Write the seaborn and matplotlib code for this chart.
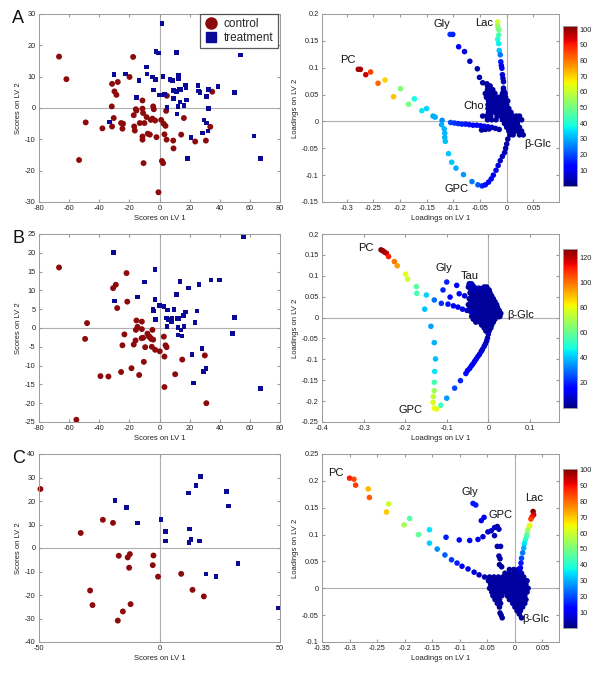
import numpy as np
import pandas as pd
import matplotlib
matplotlib.use('Agg')
import matplotlib.pyplot as plt
import seaborn as sns
from matplotlib.lines import Line2D
from matplotlib.ticker import FuncFormatter

sns.set_style('white')
plt.rcParams['font.family'] = ['Liberation Sans', 'DejaVu Sans']
plt.rcParams['axes.unicode_minus'] = False

# ---------------- scores (left column) ----------------
ctrlA_x = [-66.7, -61.8, -49.0, -53.4, -37.9, -31.5, -31.7, -30.4, -31.5, -29.9, -28.6, -27.7, -25.5, -24.6, -24.2,
           -19.9, -17.5, -17.1, -16.8, -16.4, -15.7, -15.3, -13.1, -11.3, -11.3, -10.9, -11.3, -11.3, -10.6, -10.0,
           -8.6, -7.8, -6.4, -5.8, -4.7, -4.2, -3.8, -2.9, -2.0, -0.7, 1.1, 1.6, 2.4, 2.7, 3.3, 4.0, 4.4, 4.9, 4.7,
           9.1, 9.3, 14.4, 16.2, 23.7, 30.8, 33.7, 35.0]
ctrlA_y = [16.4, 9.2, -4.6, -16.6, -6.5, -5.9, 0.5, -3.2, 7.7, 5.3, 4.2, 8.3, -4.8, -6.6, -5.0,
           9.9, 16.3, -2.3, -5.9, -7.2, -0.4, -0.8, -4.8, 2.4, -0.2, -1.6, -9.1, -10.1, -17.6, -4.8,
           -2.9, -8.2, -8.5, -3.8, -3.4, 0.5, -0.4, -4.0, -9.3, -26.9, -3.8, -16.9, -17.6, -5.0, -8.4, -5.7, -0.9, 3.9, -10.1,
           -10.4, -12.9, -8.5, -3.2, -10.7, -10.4, -6.0, 5.2]
trtA_x = [-33.0, -30.1, -22.6, -15.3, -13.5, -8.6, -8.4, -4.7, -3.8, -2.7, -2.2, -0.7, -0.2, 1.6, 2.4, 3.3, 5.1,
          6.9, 8.6, 9.1, 9.1, 11.1, 11.1, 11.7, 12.2, 12.6, 12.6, 12.9, 13.5, 14.0, 16.2, 17.1, 17.5, 18.0, 18.4,
          20.8, 25.5, 25.9, 27.0, 28.6, 29.5, 31.3, 31.3, 32.2, 32.6, 32.6, 38.8, 49.9, 53.9, 62.7, 67.1]
trtA_y = [-4.5, 10.6, 10.9, 3.3, 8.8, 13.1, 10.8, 9.9, 5.8, 9.0, 18.0, 17.5, 4.1, 27.0, 10.0, 4.4, 0.2,
          9.0, 8.7, 3.0, 5.6, 5.3, 17.8, -1.9, 0.5, 10.5, 9.3, 6.0, 1.9, 6.0, 0.8, 7.3, 6.4, 2.6, -16.1,
          -9.5, 7.1, 5.4, 4.9, -8.0, -3.8, 3.7, -4.8, -7.4, 6.0, -0.2, 6.8, 5.0, 16.9, -8.9, -16.2]

ctrlB_x = [-66.7, -48.1, -49.4, -55.2, -39.2, -33.9, -30.8, -29.0, -28.1, -21.9, -21.4, -23.3, -24.6, -25.5, -18.6,
           -13.5, -15.3, -14.6, -15.7, -15.9, -17.1, -11.7, -11.7, -11.9, -10.9, -10.4, -9.5, -8.0, -7.0, -6.4,
           -5.5, -4.7, -4.2, -5.1, -2.9, 0.2, 2.9, 3.3, 4.0, 4.7, 3.3, 10.4, 15.1, 30.1, 31.1]
ctrlB_y = [16.1, 1.3, -2.9, -24.4, -12.8, -12.9, 10.6, 11.5, 5.3, 14.6, 7.0, -1.7, -4.6, -11.7, -10.7,
           -12.5, 2.0, 0.3, -0.5, -3.3, -4.4, 1.7, -0.3, -2.7, -2.6, -9.0, -5.1, -1.5, -2.3, -2.4,
           -2.9, -0.5, -3.1, -5.0, -5.8, -6.2, -2.3, -7.6, -4.6, -5.1, -15.7, -12.3, -8.4, -7.3, -20.0]
trtB_x = [-30.6, -29.9, -14.8, -10.0, -2.9, -3.1, -4.4, -4.0, -2.7, 0.2, 3.1, 5.3, 4.7, 5.1, 6.0, 7.3, 7.8,
          8.2, 9.5, 11.1, 11.5, 12.9, 13.5, 12.2, 12.2, 14.4, 14.9, 16.2, 16.0, 17.3, 19.3, 21.7, 22.4, 23.5,
          25.0, 26.1, 28.1, 29.2, 31.0, 34.1, 39.7, 48.5, 49.6, 55.6, 67.1]
trtB_y = [20.0, 7.2, 8.2, 12.2, 15.6, 7.5, 5.0, 4.5, 2.3, 6.0, 5.7, 4.8, 2.7, 0.4, 2.3, 2.2, 1.6,
          2.5, 5.0, 8.9, 2.5, 2.6, 12.4, 0.2, -1.9, -0.5, -2.1, 0.4, 3.3, 4.3, 10.6, -7.1, -14.6, 1.5,
          4.5, 11.5, -5.4, -11.5, -10.7, 12.8, 12.8, -1.4, 2.8, 24.3, -16.1]

ctrlC_x = [-49.4, -32.7, -23.5, -19.3, -16.9, -13.2, -12.3, -12.6, -28.8, -27.8, -17.3, -15.2, -12.0, -2.5, -2.8,
           -0.6, 9.0, 13.7, 18.4]
ctrlC_y = [25.1, 6.4, 12.0, 10.7, -3.3, -4.0, -2.6, -8.4, -18.1, -24.3, -30.9, -27.0, -23.9, -3.2, -7.3,
           -12.2, -11.0, -17.8, -20.6]
trtC_x = [-18.4, -13.7, -9.1, 0.6, 2.6, 2.4, 12.0, 12.5, 13.0, 12.2, 15.2, 17.0, 16.7, 19.3, 23.5, 27.8, 28.7,
          32.5, 49.4]
trtC_y = [20.2, 17.3, 10.7, 12.0, 7.0, 2.9, 23.4, 8.1, 3.7, 2.3, 26.7, 30.5, 3.0, -11.0, -12.2, 24.0, 17.8,
          -6.7, -25.6]

# ---------------- loadings (right column): coloured branches ----------------
loadA_x = [-0.278, -0.274, -0.264, -0.255, -0.241, -0.228, -0.212, -0.199, -0.184, -0.173, -0.159, -0.150, -0.138, -0.134, -0.121,
           -0.122, -0.117, -0.116, -0.116, -0.115, -0.109, -0.103, -0.095, -0.081, -0.065, -0.054, -0.046, -0.040,
           -0.034, -0.029, -0.025, -0.020, -0.016, -0.012, -0.008, -0.004, -0.002, 0.000, 0.002,
           -0.105, -0.098, -0.091, -0.084, -0.077, -0.070, -0.063, -0.056, -0.049, -0.042, -0.035, -0.028, -0.021, -0.014,
           -0.106, -0.101, -0.090, -0.079, -0.069, -0.055, -0.051, -0.045, -0.037, -0.034,
           -0.017, -0.017, -0.015, -0.015, -0.017, -0.015, -0.014, -0.012, -0.011, -0.010, -0.009, -0.008, -0.007, -0.006, -0.006, -0.004]
loadA_y = [0.097, 0.097, 0.087, 0.092, 0.071, 0.077, 0.046, 0.061, 0.032, 0.042, 0.020, 0.024, 0.010, 0.008, 0.002,
           -0.006, -0.014, -0.022, -0.030, -0.037, -0.060, -0.076, -0.087, -0.099, -0.112, -0.118, -0.120, -0.118,
           -0.113, -0.107, -0.100, -0.091, -0.082, -0.073, -0.065, -0.058, -0.050, -0.042, -0.033,
           -0.002, -0.003, -0.004, -0.005, -0.005, -0.006, -0.007, -0.007, -0.008, -0.009, -0.010, -0.011, -0.013, -0.015,
           0.162, 0.162, 0.139, 0.130, 0.112, 0.098, 0.082, 0.072, 0.070, 0.060,
           0.185, 0.178, 0.171, 0.161, 0.153, 0.145, 0.132, 0.124, 0.111, 0.104, 0.099, 0.087, 0.080, 0.074, 0.062, 0.054]
loadA_c = [100, 98, 95, 86, 82, 70, 72, 52, 50, 38, 36, 34, 30, 30, 27,
           30, 31, 31, 31, 32, 33, 33, 30, 28, 25, 22, 16, 14,
           12, 11, 10, 9, 8, 6, 5, 5, 4, 4, 3,
           20, 18, 17, 16, 15, 14, 12, 11, 10, 9, 8, 6, 5, 4,
           18, 16, 12, 9, 6, 4, 4, 3, 3, 3,
           62, 55, 50, 45, 40, 37, 32, 25, 15, 12, 10, 8, 6, 5, 4, 3]

loadB_x = [-0.258, -0.254, -0.250, -0.245, -0.240, -0.226, -0.219, -0.199, -0.194, -0.173, -0.172, -0.149, -0.153, -0.130,
           -0.138, -0.130, -0.127, -0.129, -0.130, -0.130, -0.132, -0.133, -0.130, -0.124, -0.114, -0.100, -0.081, -0.067,
           -0.054, -0.050, -0.045, -0.041, -0.037, -0.033, -0.029, -0.025, -0.021, -0.017, -0.014, -0.010, -0.007, -0.004, -0.002, 0.000,
           -0.100, -0.109, -0.076, -0.070, -0.092, -0.057,
           -0.113, -0.097, -0.084, -0.073, -0.062, -0.051, -0.042, -0.034,
           -0.045, -0.040, -0.035, -0.038, -0.030, -0.025, -0.021, -0.010, -0.006, -0.004,
           0.026, 0.022, 0.018, 0.015]
loadB_y = [0.162, 0.160, 0.157, 0.154, 0.146, 0.134, 0.124, 0.104, 0.092, 0.074, 0.058, 0.054, 0.020, 0.042,
           -0.021, -0.060, -0.099, -0.129, -0.155, -0.175, -0.189, -0.203, -0.217, -0.219, -0.210, -0.193, -0.169, -0.151,
           -0.134, -0.127, -0.122, -0.116, -0.111, -0.105, -0.099, -0.093, -0.088, -0.081, -0.076, -0.069, -0.063, -0.056, -0.049, -0.040,
           0.085, 0.066, 0.077, 0.057, 0.049, 0.052,
           0.034, 0.032, 0.028, 0.025, 0.020, 0.017, 0.014, 0.011,
           0.081, 0.080, 0.074, 0.068, 0.065, 0.070, 0.070, 0.072, 0.068, 0.072,
           0.002, 0.006, 0.010, 0.015]
loadB_c = [127, 125, 124, 120, 112, 100, 94, 80, 76, 58, 55, 42, 40, 30,
           36, 38, 40, 45, 55, 68, 74, 78, 80, 80, 55, 35, 25, 20,
           17, 16, 15, 14, 13, 12, 12, 11, 10, 10, 9, 8, 8, 7, 6, 6,
           20, 20, 15, 14, 16, 10,
           22, 18, 15, 12, 10, 8, 6, 5,
           8, 8, 6, 6, 5, 5, 5, 4, 4, 4,
           3, 3, 3, 3]

loadC_x = [-0.300, -0.292, -0.289, -0.266, -0.264, -0.229, -0.233, -0.191, -0.201, -0.175, -0.155, -0.155, -0.141, -0.127,
           -0.115, -0.105, -0.096, -0.085, -0.074, -0.065, -0.055,
           -0.125, -0.101, -0.082, -0.067, -0.058, -0.049, -0.043, -0.037, -0.032, -0.029, -0.037, -0.032, -0.026, -0.029,
           -0.027, -0.028, -0.024,
           -0.076, -0.071, -0.061, -0.056,
           0.033, 0.034, 0.031, 0.029, 0.027, 0.026, 0.023, 0.022, 0.021, 0.019, 0.017, 0.016, 0.014, 0.012, 0.011, 0.010, 0.009]
loadC_y = [0.205, 0.203, 0.192, 0.185, 0.169, 0.157, 0.142, 0.130, 0.118, 0.100, 0.109, 0.084, 0.073, 0.062,
           0.053, 0.047, 0.041, 0.036, 0.030, 0.025, 0.021,
           0.095, 0.090, 0.089, 0.091, 0.096, 0.105, 0.107, 0.113, 0.115, 0.110, 0.098, 0.078, 0.078, 0.060,
           0.055, 0.044, 0.040,
           0.158, 0.155, 0.126, 0.132,
           0.143, 0.137, 0.133, 0.129, 0.117, 0.115, 0.108, 0.100, 0.096, 0.090, 0.083, 0.075, 0.066, 0.056, 0.047, 0.038, 0.030]
loadC_c = [88, 84, 85, 72, 82, 60, 70, 45, 55, 47, 35, 33, 27, 22,
           18, 15, 12, 10, 8, 6, 5,
           15, 12, 10, 9, 8, 6, 6, 6, 5, 5, 5, 4, 4, 4,
           4, 3, 3,
           15, 15, 10, 10,
           100, 95, 90, 85, 65, 62, 55, 48, 45, 40, 35, 30, 25, 20, 15, 10, 6]

# ---------------- loadings: dense dark-blue cores near the origin ----------------
coreA_y = [0.066, 0.066,
           0.059, 0.059, 0.059, 0.059,
           0.052, 0.052, 0.052, 0.052, 0.052, 0.052,
           0.045, 0.045, 0.045, 0.045, 0.045, 0.045, 0.045,
           0.038, 0.038, 0.038, 0.038, 0.038, 0.038, 0.038,
           0.031, 0.031, 0.031, 0.031, 0.031, 0.031, 0.031,
           0.024, 0.024, 0.024, 0.024, 0.024, 0.024, 0.024, 0.024,
           0.017, 0.017, 0.017, 0.017, 0.017, 0.017, 0.017, 0.017,
           0.010, 0.010, 0.010, 0.010, 0.010, 0.010, 0.010, 0.010, 0.010, 0.010, 0.010,
           0.003, 0.003, 0.003, 0.003, 0.003, 0.003, 0.003, 0.003, 0.003, 0.003,
           -0.004, -0.004, -0.004, -0.004, -0.004,
           -0.011, -0.011, -0.011, -0.011, -0.011,
           -0.018, -0.018, -0.018, -0.018, -0.018,
           -0.025, -0.025, -0.025, -0.025,
           -0.016, -0.015, -0.014]
coreA_x = [-0.036, -0.031,
           -0.036, -0.031, -0.026, -0.006,
           -0.040, -0.034, -0.028, -0.022, -0.008, -0.003,
           -0.038, -0.032, -0.026, -0.020, -0.014, -0.008, -0.002,
           -0.034, -0.028, -0.022, -0.016, -0.010, -0.004, 0.002,
           -0.035, -0.030, -0.024, -0.018, -0.012, -0.006, 0.000,
           -0.035, -0.030, -0.025, -0.020, -0.014, -0.008, -0.002, 0.004,
           -0.034, -0.028, -0.022, -0.016, -0.010, -0.004, 0.002, 0.008,
           -0.045, -0.038, -0.030, -0.018, -0.012, -0.006, 0.000, 0.006, 0.012, 0.018, 0.024,
           -0.036, -0.028, -0.020, -0.008, -0.002, 0.004, 0.010, 0.016, 0.022, 0.028,
           -0.004, 0.002, 0.008, 0.014, 0.020,
           0.000, 0.006, 0.012, 0.018, 0.024,
           0.004, 0.010, 0.016, 0.022, 0.028,
           0.006, 0.012, 0.024, 0.031,
           -0.047, -0.040, -0.033]
coreB_y = [0.080, 0.080,
           0.073, 0.073, 0.073, 0.073,
           0.066, 0.066, 0.066, 0.066, 0.066, 0.066,
           0.059, 0.059, 0.059, 0.059, 0.059, 0.059, 0.059,
           0.052, 0.052, 0.052, 0.052, 0.052, 0.052, 0.052,
           0.045, 0.045, 0.045, 0.045, 0.045, 0.045, 0.045, 0.045,
           0.038, 0.038, 0.038, 0.038, 0.038, 0.038, 0.038, 0.038,
           0.031, 0.031, 0.031, 0.031, 0.031, 0.031, 0.031, 0.031, 0.031,
           0.024, 0.024, 0.024, 0.024, 0.024, 0.024, 0.024, 0.024, 0.024,
           0.017, 0.017, 0.017, 0.017, 0.017, 0.017, 0.017, 0.017, 0.017,
           0.010, 0.010, 0.010, 0.010, 0.010, 0.010, 0.010, 0.010, 0.010,
           0.003, 0.003, 0.003, 0.003, 0.003, 0.003, 0.003, 0.003, 0.003,
           -0.004, -0.004, -0.004, -0.004, -0.004, -0.004, -0.004,
           -0.011, -0.011, -0.011, -0.011, -0.011, -0.011,
           -0.018, -0.018, -0.018, -0.018,
           -0.025, -0.025, -0.025,
           -0.032, -0.032]
coreB_x = [-0.046, -0.040,
           -0.048, -0.036, -0.010, -0.004,
           -0.042, -0.030, -0.022, -0.012, -0.004, 0.002,
           -0.044, -0.036, -0.028, -0.020, -0.012, -0.004, 0.004,
           -0.040, -0.032, -0.024, -0.016, -0.008, 0.000, 0.008,
           -0.046, -0.036, -0.028, -0.020, -0.012, -0.004, 0.004, 0.012,
           -0.042, -0.032, -0.024, -0.016, -0.008, 0.000, 0.008, 0.016,
           -0.048, -0.038, -0.028, -0.020, -0.012, -0.004, 0.004, 0.012, 0.020,
           -0.044, -0.034, -0.024, -0.016, -0.008, 0.000, 0.008, 0.016, 0.022,
           -0.040, -0.030, -0.020, -0.012, -0.004, 0.004, 0.012, 0.020, 0.026,
           -0.036, -0.026, -0.016, -0.008, 0.000, 0.008, 0.016, 0.024, 0.030,
           -0.040, -0.030, -0.020, -0.012, -0.004, 0.004, 0.012, 0.020, 0.028,
           -0.036, -0.026, -0.016, -0.008, 0.000, 0.008, 0.016,
           -0.030, -0.020, -0.012, -0.004, 0.004, 0.012,
           -0.016, -0.008, 0.000, 0.008,
           -0.010, -0.002, 0.006,
           -0.006, 0.002]
coreC_y = [0.035, 0.035, 0.035,
           0.028, 0.028, 0.028, 0.028, 0.028,
           0.021, 0.021, 0.021, 0.021, 0.021, 0.021, 0.021, 0.021, 0.021,
           0.014, 0.014, 0.014, 0.014, 0.014, 0.014, 0.014, 0.014, 0.014, 0.014,
           0.007, 0.007, 0.007, 0.007, 0.007, 0.007, 0.007, 0.007, 0.007,
           0.000, 0.000, 0.000, 0.000, 0.000, 0.000, 0.000, 0.000, 0.000, 0.000,
           -0.007, -0.007, -0.007, -0.007, -0.007, -0.007, -0.007, -0.007, -0.007,
           -0.014, -0.014, -0.014, -0.014, -0.014, -0.014, -0.014, -0.014,
           -0.021, -0.021, -0.021, -0.021, -0.021, -0.021, -0.021,
           -0.028, -0.028, -0.028, -0.028, -0.028, -0.028,
           -0.035, -0.035, -0.035, -0.035,
           -0.042, -0.042,
           -0.046, -0.050, -0.055, -0.048, -0.055]
coreC_x = [-0.010, -0.002, 0.006,
           -0.018, -0.010, -0.002, 0.006, 0.012,
           -0.046, -0.038, -0.030, -0.022, -0.014, -0.006, 0.002, 0.010, 0.016,
           -0.048, -0.040, -0.032, -0.024, -0.016, -0.008, 0.000, 0.008, 0.016, 0.022,
           -0.044, -0.036, -0.028, -0.020, -0.012, -0.004, 0.004, 0.012, 0.020,
           -0.046, -0.038, -0.030, -0.022, -0.014, -0.006, 0.002, 0.010, 0.018, 0.024,
           -0.042, -0.034, -0.026, -0.018, -0.010, -0.002, 0.006, 0.014, 0.022,
           -0.040, -0.032, -0.024, -0.014, -0.006, 0.002, 0.010, 0.018,
           -0.036, -0.028, -0.010, -0.002, 0.006, 0.014, 0.020,
           -0.032, -0.026, -0.004, 0.004, 0.012, 0.018,
           -0.028, 0.000, 0.008, 0.014,
           0.004, 0.010,
           -0.027, -0.025, -0.023, 0.008, 0.012]
core_level = 3

RED = '#8c0a0c'
BLUE = '#0a0a96'
GRAY = '#9a9a9a'
JET = matplotlib.colormaps['jet']

W, H = 600, 677
fig = plt.figure(figsize=(6, 6.77), dpi=100)


def box(l, t, r, b):
    return [l / W, 1 - b / H, (r - l) / W, (b - t) / H]


def fmt(v, pos):
    v = round(v, 4)
    if v == 0:
        v = 0
    return '%g' % v


def style(ax, xlim, xticks, ylim, yticks, xlabel, ylabel):
    ax.axhline(0, color='#b0b0b0', lw=0.8, zorder=0)
    ax.axvline(0, color='#b0b0b0', lw=0.8, zorder=0)
    ax.set_xlim(*xlim)
    ax.set_ylim(*ylim)
    ax.set_xticks(xticks)
    ax.set_yticks(yticks)
    ax.xaxis.set_major_formatter(FuncFormatter(fmt))
    ax.yaxis.set_major_formatter(FuncFormatter(fmt))
    ax.tick_params(labelsize=5.3, length=2, direction='in', color=GRAY, pad=2,
                   bottom=True, left=True, top=True, right=True, labelcolor='#222222')
    ax.tick_params(axis='y', pad=2.5)
    for sp in ax.spines.values():
        sp.set_color(GRAY)
        sp.set_linewidth(0.7)
    ax.set_xlabel(xlabel, fontsize=5.5, labelpad=2, color='#222222')
    ax.set_ylabel(ylabel, fontsize=5.5, labelpad=2, color='#222222')


def scores_panel(rect, cx, cy, tx, ty, xlim, xticks, ylim, yticks):
    ax = fig.add_axes(rect)
    df = pd.DataFrame({'x': cx + tx, 'y': cy + ty,
                       'group': ['control'] * len(cx) + ['treatment'] * len(tx)})
    sns.scatterplot(data=df, x='x', y='y', hue='group', style='group', size='group',
                    palette={'control': RED, 'treatment': BLUE},
                    markers={'control': 'o', 'treatment': 's'},
                    sizes={'control': 18, 'treatment': 11},
                    linewidth=0, legend=False, ax=ax, clip_on=False)
    style(ax, xlim, xticks, ylim, yticks, 'Scores on LV 1', 'Scores on LV 2')
    return ax


def loadings_panel(rect, crect, lx, ly, lc, kx, ky, vmax, xlim, xticks, ylim, yticks, cticks, labels):
    ax = fig.add_axes(rect)
    df = pd.DataFrame({'x': kx + lx, 'y': ky + ly, 'c': [core_level] * len(kx) + lc})
    sns.scatterplot(data=df, x='x', y='y', hue='c', palette=JET, hue_norm=(0, vmax),
                    s=16, linewidth=0, legend=False, ax=ax)
    style(ax, xlim, xticks, ylim, yticks, 'Loadings on LV 1', 'Loadings on LV 2')
    for name, px, py in labels:
        ax.text(px, py, name, fontsize=8, ha='center', va='center', color='#111111')
    cax = fig.add_axes(crect)
    sm = plt.cm.ScalarMappable(norm=plt.Normalize(0, vmax), cmap=JET)
    cb = fig.colorbar(sm, cax=cax, ticks=cticks)
    cb.outline.set_edgecolor(GRAY)
    cb.outline.set_linewidth(0.7)
    cax.tick_params(labelsize=5.3, length=2, direction='in', color=GRAY, pad=2, labelcolor='#222222')
    return ax


# row A
axA = scores_panel(box(39, 14, 280, 202), ctrlA_x, ctrlA_y, trtA_x, trtA_y,
                   (-80, 80), np.arange(-80, 81, 20), (-30, 30), np.arange(-30, 31, 10))
handles = [Line2D([], [], marker='o', ls='', markerfacecolor=RED, markeredgecolor=RED, markersize=8),
           Line2D([], [], marker='s', ls='', markerfacecolor=BLUE, markeredgecolor=BLUE, markersize=7)]
leg = axA.legend(handles, ['control', 'treatment'], loc='upper right', bbox_to_anchor=(0.99, 1.0),
                 borderaxespad=0, fontsize=8.5, frameon=True, fancybox=False, edgecolor='#333333',
                 borderpad=0.35, handletextpad=0.4, labelspacing=0.15, handlelength=1.3)
leg.get_frame().set_linewidth(0.9)

loadings_panel(box(322, 14, 559, 202), box(563, 26, 577, 186), loadA_x, loadA_y, loadA_c, coreA_x, coreA_y, 102,
               (-0.346, 0.098), np.arange(-0.3, 0.051, 0.05), (-0.15, 0.2), np.arange(-0.15, 0.201, 0.05),
               np.arange(10, 101, 10),
               [('PC', -0.297, 0.115), ('Gly', -0.121, 0.181), ('Lac', -0.043, 0.183),
                ('Cho', -0.062, 0.029), ('\u03b2-Glc', 0.059, -0.042), ('GPC', -0.093, -0.126)])

# row B
scores_panel(box(39, 234, 280, 422), ctrlB_x, ctrlB_y, trtB_x, trtB_y,
             (-80, 80), np.arange(-80, 81, 20), (-25, 25), np.arange(-25, 26, 5))
loadings_panel(box(322, 234, 559, 422), box(563, 249, 577, 408), loadB_x, loadB_y, loadB_c, coreB_x, coreB_y, 127,
               (-0.4, 0.17), np.arange(-0.4, 0.11, 0.1), (-0.25, 0.2), np.arange(-0.25, 0.201, 0.05),
               np.arange(20, 121, 20),
               [('PC', -0.294, 0.166), ('Gly', -0.108, 0.118), ('Tau', -0.045, 0.100),
                ('\u03b2-Glc', 0.078, 0.006), ('GPC', -0.186, -0.221)])

# row C
scores_panel(box(39, 454, 280, 642), ctrlC_x, ctrlC_y, trtC_x, trtC_y,
             (-50, 50), [-50, 0, 50], (-40, 40), np.arange(-40, 41, 10))
loadings_panel(box(322, 454, 559, 642), box(563, 469, 577, 628), loadC_x, loadC_y, loadC_c, coreC_x, coreC_y, 100.5,
               (-0.35, 0.08), np.arange(-0.35, 0.051, 0.05), (-0.1, 0.25), np.arange(-0.1, 0.251, 0.05),
               np.arange(10, 101, 10),
               [('PC', -0.324, 0.214), ('Gly', -0.082, 0.180), ('GPC', -0.026, 0.137),
                ('Lac', 0.035, 0.168), ('\u03b2-Glc', 0.038, -0.058)])

for letter, top in [('A', 10), ('B', 230), ('C', 450)]:
    fig.text(12 / W, 1 - top / H, letter, fontsize=13, ha='left', va='top', color='#111111')

fig.savefig('out.png', dpi=100)
